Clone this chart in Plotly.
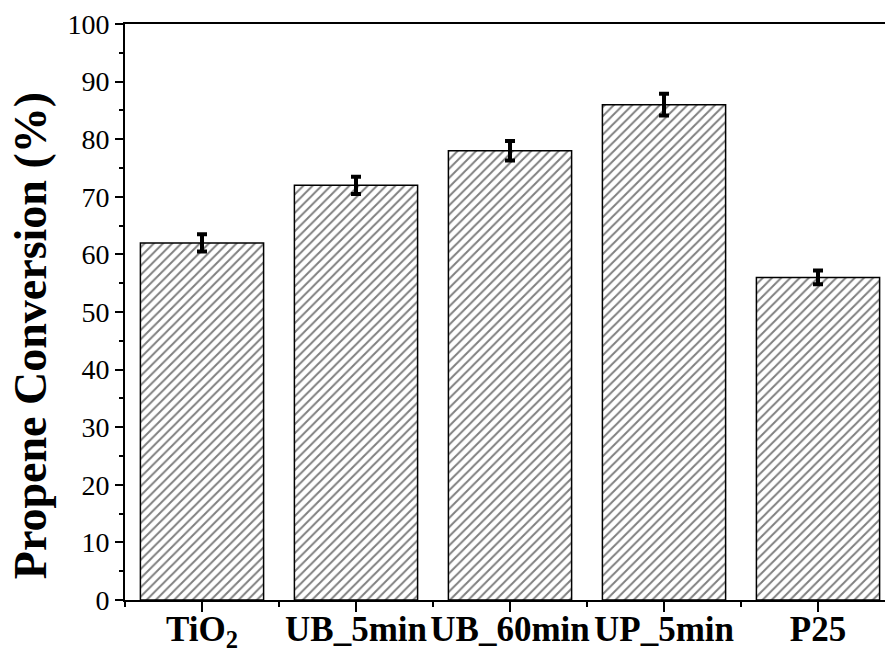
import plotly.graph_objects as go

categories = ["TiO<sub>2</sub>", "UB_5min", "UB_60min", "UP_5min", "P25"]
conversion = [62, 72, 78, 86, 56]
errors = [1.5, 1.5, 1.7, 1.9, 1.2]
y_ticks = [0, 10, 20, 30, 40, 50, 60, 70, 80, 90, 100]
y_title = "Propene Conversion (%)"

xpos = list(range(len(categories)))
FONT = "Liberation Serif, Times New Roman, serif"

fig = go.Figure()
fig.add_trace(go.Bar(
    x=xpos, y=conversion, width=0.8,
    marker=dict(color="white",
                line=dict(color="black", width=1.5),
                pattern=dict(shape="/", fgcolor="black", bgcolor="white",
                             size=6.5, solidity=0.3)),
    error_y=dict(type="data", array=errors, visible=True,
                 color="black", thickness=4, width=5),
))

fig.update_layout(
    width=885, height=652,
    margin=dict(l=125, r=0, t=24, b=52),
    paper_bgcolor="white", plot_bgcolor="white",
    showlegend=False,
    font=dict(family=FONT, color="black"),
)
fig.add_annotation(
    text=y_title, textangle=-90, showarrow=False,
    xref="paper", yref="paper", x=-0.125, y=0.458,
    xanchor="center", yanchor="middle",
    font=dict(family=FONT, size=46, color="black", weight="bold"),
)
fig.update_xaxes(
    range=[-0.5, 4.435], automargin=False, tickangle=0,
    tickmode="array", tickvals=xpos, ticktext=categories,
    tickfont=dict(family=FONT, size=35, color="black", weight="bold"),
    ticklabelstandoff=-13,
    ticks="outside", ticklen=10, tickwidth=2, tickcolor="black",
    minor=dict(tickmode="linear", tick0=-0.5, dtick=1, ticks="outside",
               ticklen=5, tickwidth=2, tickcolor="black"),
    showline=True, linecolor="black", linewidth=2, mirror=True,
    showgrid=False, zeroline=False,
)
fig.update_yaxes(
    range=[0, 100], automargin=False,
    tickmode="array", tickvals=y_ticks,
    tickfont=dict(family=FONT, size=28, color="black"),
    ticks="outside", ticklen=8, tickwidth=2, tickcolor="black",
    minor=dict(tickmode="linear", tick0=5, dtick=10, ticks="outside",
               ticklen=4, tickwidth=2, tickcolor="black"),
    showline=True, linecolor="black", linewidth=2, mirror=False,
    showgrid=False, zeroline=False,
)

fig.write_html("out.html")
